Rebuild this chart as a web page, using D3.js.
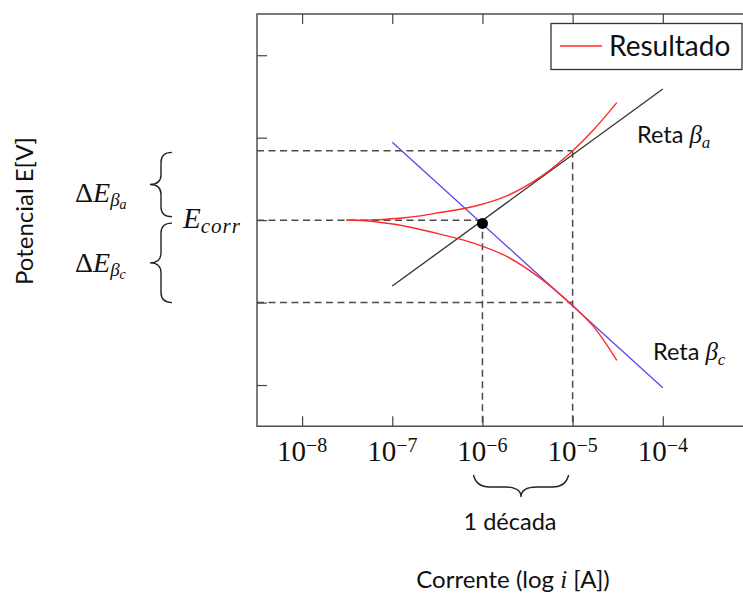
<!DOCTYPE html>
<html>
<head>
<meta charset="utf-8">
<script src="https://cdn.jsdelivr.net/npm/d3@7"></script>
<style>
  body { margin: 0; background: #fff; }
  .sans { font-family: Lato, "Open Sans", sans-serif; fill: #111; }
  .math { font-family: "Liberation Serif", "DejaVu Serif", serif; fill: #111; }
</style>
</head>
<body>
<div id="chart"></div>
<script>
// Curva de polarização (esboço) - expoentes de log10(i)

const tickExp = [-8, -7, -6, -5, -4];
const yTicks = [-2, -1, 0, 1, 2];

// curva "Resultado" (ramo anódico e catódico)
const resLog = [-7.51, -7.21, -6.84, -6.47, -6.10, -5.73, -5.36, -5.03, -4.77, -4.51];
const resUpperE = [0, 0.003, 0.031, 0.092, 0.165, 0.294, 0.521, 0.812, 1.094, 1.425];
const resLowerE = [0, -0.017, -0.077, -0.170, -0.279, -0.441, -0.703, -1.006, -1.289, -1.701];

// retas de Tafel
const betaALog = [-7, -4];
const betaAE = [-0.8, 1.59];
const betaCLog = [-7, -4];
const betaCE = [0.945, -2.033];

// ponto de corrosão e níveis tracejados
const corrLog = -6;
const corrE = -0.04;
const eCorr = 0;
const eUpper = 0.84;
const eLower = -1.0;
const decadeLog = [-6, -5];

const W = 743, H = 597;
const svg = d3.select("#chart").append("svg")
    .attr("width", W).attr("height", H);

const x = d3.scaleLog().domain([10 ** -8.5, 1e-3]).range([257, 753]);
const y = d3.scaleLinear().domain([-2.5, 2.5]).range([426.25, 14]);
const X = e => x(10 ** e);

const axisColor = "#444";

// Eixos (ticks para dentro)
const tickVals = tickExp.map(e => 10 ** e);
const axes = [
    d3.axisBottom(x).tickValues(tickVals), d3.axisTop(x).tickValues(tickVals),
    d3.axisLeft(y).tickValues(yTicks), d3.axisRight(y).tickValues(yTicks)
];
const pos = [
    `translate(0,${y(-2.5)})`, `translate(0,${y(2.5)})`,
    `translate(${x(10 ** -8.5)},0)`, `translate(${x(1e-3)},0)`
];
axes.forEach((a, i) => {
    const g = svg.append("g")
        .attr("transform", pos[i])
        .call(a.tickSizeInner(-10).tickSizeOuter(0).tickFormat(""));
    g.select(".domain").remove();
    g.selectAll("line").attr("stroke", axisColor).attr("stroke-width", 1.2);
});

svg.append("rect")
    .attr("x", x(10 ** -8.5)).attr("y", y(2.5))
    .attr("width", x(1e-3) - x(10 ** -8.5))
    .attr("height", y(-2.5) - y(2.5))
    .attr("fill", "none").attr("stroke", axisColor).attr("stroke-width", 1.4);

// Rótulos 10^n
tickExp.forEach(e => {
    const t = svg.append("text").attr("class", "math")
        .attr("x", X(e)).attr("y", 461)
        .attr("text-anchor", "middle")
        .style("font-size", "29px");
    t.append("tspan").text("10");
    t.append("tspan").attr("dy", -9).style("font-size", "20px").text("\u2212" + (-e));
});

// Linhas tracejadas
const dashed = [
    [[-8.5, eUpper], [-5, eUpper]],
    [[-8.5, eCorr], [corrLog, eCorr]],
    [[-8.5, eLower], [-5, eLower]],
    [[corrLog, eCorr], [corrLog, -2.5]],
    [[-5, eUpper], [-5, -2.5]]
];
const seg = d3.line().x(d => X(d[0])).y(d => y(d[1]));
svg.selectAll(".dash").data(dashed).enter().append("path")
    .attr("class", "dash")
    .attr("d", seg)
    .attr("fill", "none").attr("stroke", "#4a4a4a")
    .attr("stroke-width", 1.5).attr("stroke-dasharray", "7,4.5");

// Retas de Tafel
const lineA = d3.zip(betaALog, betaAE);
const lineC = d3.zip(betaCLog, betaCE);
svg.append("path").attr("d", seg(lineA))
    .attr("fill", "none").attr("stroke", "#333").attr("stroke-width", 1.3);
svg.append("path").attr("d", seg(lineC))
    .attr("fill", "none").attr("stroke", "#6244e4").attr("stroke-width", 1.3);

// Curva resultado
const curve = d3.line().x(d => X(d[0])).y(d => y(d[1])).curve(d3.curveCatmullRom.alpha(0.5));
[resUpperE, resLowerE].forEach(vals => {
    svg.append("path").attr("d", curve(d3.zip(resLog, vals)))
        .attr("fill", "none").attr("stroke", "#ff2a2a").attr("stroke-width", 1.4);
});

// Ponto E_corr
svg.append("circle")
    .attr("cx", X(corrLog)).attr("cy", y(corrE)).attr("r", 5.5)
    .attr("fill", "#000");

// Legenda
const leg = svg.append("g");
leg.append("rect")
    .attr("x", 551).attr("y", 23.5).attr("width", 191).attr("height", 46)
    .attr("fill", "#fff").attr("stroke", "#333").attr("stroke-width", 1.3);
leg.append("line")
    .attr("x1", 560).attr("x2", 602).attr("y1", 46).attr("y2", 46)
    .attr("stroke", "#ff2a2a").attr("stroke-width", 1.4);
leg.append("text").attr("class", "sans")
    .attr("x", 609).attr("y", 56).style("font-size", "28px").text("Resultado");

// Rótulos das retas
function retaLabel(xp, yp, sub) {
    const t = svg.append("text").attr("class", "sans")
        .attr("x", xp).attr("y", yp).style("font-size", "23.5px");
    t.append("tspan").text("Reta ");
    t.append("tspan").attr("class", "math").style("font-style", "italic")
        .style("font-size", "25px").text("\u03b2");
    t.append("tspan").attr("class", "math").style("font-style", "italic")
        .style("font-size", "17px").attr("dy", 5).text(sub);
}
retaLabel(637, 143, "a");
retaLabel(653, 360, "c");

// Chaves
function braceV(xEnd, xTip, y1, y2) {
    const xs = (xEnd + xTip) / 2, ym = (y1 + y2) / 2, q = 10;
    return `M${xEnd},${y1} Q${xs},${y1} ${xs},${y1 + q} L${xs},${ym - q} ` +
        `Q${xs},${ym} ${xTip},${ym} Q${xs},${ym} ${xs},${ym + q} ` +
        `L${xs},${y2 - q} Q${xs},${y2} ${xEnd},${y2}`;
}
function braceH(x1, x2, yEnd, yTip) {
    const ys = (yEnd + yTip) / 2 + 1, xm = (x1 + x2) / 2, q = 16;
    return `M${x1},${yEnd} Q${x1 + 3},${ys} ${x1 + q},${ys} L${xm - q},${ys} ` +
        `Q${xm},${ys} ${xm},${yTip} Q${xm},${ys} ${xm + q},${ys} ` +
        `L${x2 - q},${ys} Q${x2 - 3},${ys} ${x2},${yEnd}`;
}
const braceStyle = p => p.attr("fill", "none").attr("stroke", "#222").attr("stroke-width", 1.4);
svg.append("path").attr("d", braceV(172, 150, y(eUpper) + 1.5, y(eCorr) - 3.5)).call(braceStyle);
svg.append("path").attr("d", braceV(172, 150, y(eCorr) + 3, y(eLower))).call(braceStyle);
svg.append("path").attr("d", braceH(X(decadeLog[0]) - 9, X(decadeLog[1]) - 4, 475, 497)).call(braceStyle);

// ΔE e E_corr
function deltaLabel(yp, sub) {
    const t = svg.append("text").attr("class", "math")
        .attr("x", 75).attr("y", yp).style("font-size", "28px");
    t.append("tspan").text("\u0394");
    t.append("tspan").style("font-style", "italic").text("E");
    t.append("tspan").style("font-style", "italic").style("font-size", "19px")
        .attr("dy", 4).text("\u03b2");
    t.append("tspan").style("font-style", "italic").style("font-size", "14px")
        .attr("dy", 3).text(sub);
}
deltaLabel(201.5, "a");
deltaLabel(271.5, "c");

const ec = svg.append("text").attr("class", "math")
    .attr("x", 183).attr("y", 228).style("font-size", "29px");
ec.append("tspan").style("font-style", "italic").text("E");
ec.append("tspan").style("font-style", "italic").style("font-size", "21px")
    .attr("dy", 5).attr("letter-spacing", "1px").text("corr");

// Textos dos eixos
svg.append("text").attr("class", "sans")
    .attr("x", 510).attr("y", 530).attr("text-anchor", "middle")
    .style("font-size", "23.5px").text("1 década");

const xl = svg.append("text").attr("class", "sans")
    .attr("x", 513).attr("y", 588).attr("text-anchor", "middle")
    .style("font-size", "24px");
xl.append("tspan").text("Corrente (log ");
xl.append("tspan").attr("class", "math").style("font-style", "italic")
    .style("font-size", "25px").text("i");
xl.append("tspan").text(" [A])");

svg.append("text").attr("class", "sans")
    .attr("transform", "translate(33,211) rotate(-90)")
    .attr("text-anchor", "middle")
    .style("font-size", "24px").text("Potencial E[V]");
</script>
</body>
</html>
